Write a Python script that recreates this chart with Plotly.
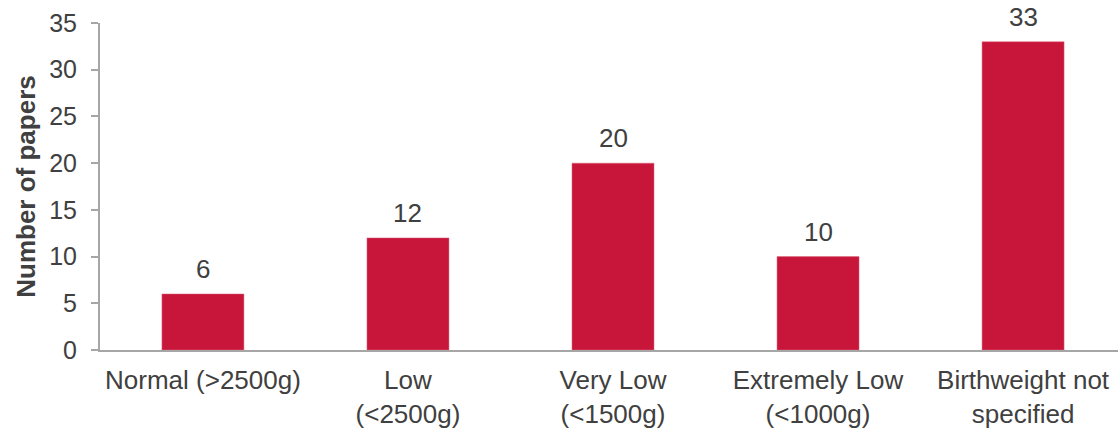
import plotly.graph_objects as go

categories = ["Normal (&gt;2500g)", "Low<br>(&lt;2500g)", "Very Low<br>(&lt;1500g)",
              "Extremely Low<br>(&lt;1000g)", "Birthweight not<br>specified"]
values = [6, 12, 20, 10, 33]
y_ticks = [0, 5, 10, 15, 20, 25, 30, 35]

BAR = "#C8163A"
TXT = "#404040"
AX = "#A6A6A6"
FONT = "Liberation Sans, Arial, sans-serif"

idx = list(range(len(categories)))
fig = go.Figure()
fig.add_trace(go.Bar(x=idx, y=values, width=0.4,
                     marker=dict(color=BAR, line=dict(color="#E06A80", width=0.5)),
                     hoverinfo="skip"))

for i, v in zip(idx, values):
    fig.add_annotation(x=i, y=v, text=str(v), showarrow=False, yanchor="bottom",
                       yshift=8, font=dict(size=26, color=TXT, family=FONT))

fig.update_layout(
    width=1118, height=428,
    margin=dict(l=100, r=0, t=23, b=78),
    paper_bgcolor="white", plot_bgcolor="white",
    showlegend=False,
    font=dict(family=FONT, color=TXT),
    xaxis=dict(range=[-0.502, 4.463], tickmode="array", tickvals=idx, ticktext=categories,
               showline=True, linecolor=AX, linewidth=2, ticks="", showgrid=False,
               zeroline=False, tickfont=dict(size=26, color=TXT, family=FONT),
               ticklabelstandoff=6, fixedrange=True),
    yaxis=dict(range=[0, 35], tickmode="array", tickvals=y_ticks,
               showline=True, linecolor=AX, linewidth=2, ticks="outside", ticklen=7,
               tickcolor=AX, tickwidth=2, showgrid=False, zeroline=False,
               tickfont=dict(size=25, color=TXT, family=FONT), ticklabelstandoff=9,
               title=dict(text="<b>Number of papers</b>", font=dict(size=26, color=TXT, family=FONT),
                          standoff=6),
               fixedrange=True),
)
fig.write_html("out.html")
